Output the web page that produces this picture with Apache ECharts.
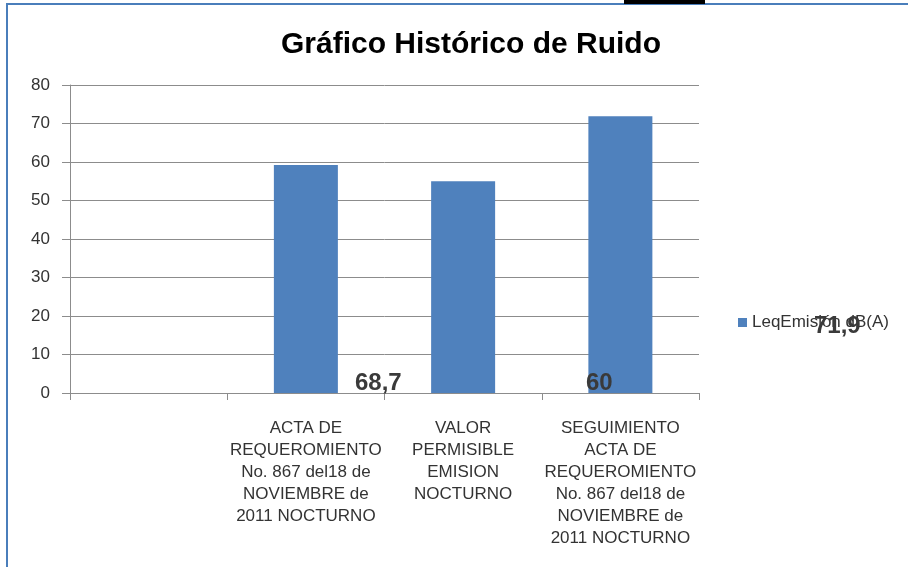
<!DOCTYPE html>
<html>
<head>
<meta charset="utf-8">
<script src="https://cdn.jsdelivr.net/npm/echarts@6.0.0/dist/echarts.min.js"></script>
<style>
  html, body { margin: 0; padding: 0; background: #fff; }
  #chart { width: 908px; height: 567px; }
</style>
</head>
<body>
<div id="chart"></div>
<script>
const categories = [
    "",
    "ACTA DE\nREQUEROMIENTO\nNo. 867 del18 de\nNOVIEMBRE de\n2011 NOCTURNO",
    "VALOR\nPERMISIBLE\nEMISION\nNOCTURNO",
    "SEGUIMIENTO\nACTA DE\nREQUEROMIENTO\nNo. 867 del18 de\nNOVIEMBRE de\n2011 NOCTURNO"
];
const leqValues = [null, 59.2, 55, 71.9];
const yTicks = [0, 10, 20, 30, 40, 50, 60, 70, 80];
// stray data labels that sit in odd places in the original picture
const strayLabels = ["68,7", "60", "71,9"];

const font = "Liberation Sans, Arial, sans-serif";
const textColor = "#333";

const chart = echarts.init(document.getElementById("chart"), null, { renderer: "canvas" });

chart.setOption({
    animation: false,
    backgroundColor: "#fff",
    title: {
        text: "Gráfico Histórico de Ruido",
        left: 466,
        top: 25,
        textAlign: "center",
        textStyle: { fontFamily: font, fontSize: 30, fontWeight: "bold", color: "#000" }
    },
    legend: {
        left: 733,
        top: 309,
        itemWidth: 9,
        itemHeight: 9,
        itemGap: 10,
        icon: "rect",
        textStyle: { fontFamily: font, fontSize: 17, color: textColor },
        data: ["LeqEmisión dB(A)"]
    },
    grid: { left: 70, right: 209, top: 85, bottom: 174 },
    xAxis: {
        type: "category",
        data: categories,
        axisLine: { lineStyle: { color: "#8c8c8c", width: 1 } },
        axisTick: { show: true, length: 7, lineStyle: { color: "#8c8c8c" } },
        axisLabel: {
            interval: 0,
            margin: 24,
            color: textColor,
            fontFamily: font,
            fontSize: 17,
            lineHeight: 22,
            align: "center"
        }
    },
    yAxis: {
        type: "value",
        min: yTicks[0],
        max: yTicks[yTicks.length - 1],
        interval: 10,
        axisLine: { show: true, lineStyle: { color: "#8c8c8c" } },
        axisTick: { show: true, length: 8, lineStyle: { color: "#8c8c8c" } },
        splitLine: { lineStyle: { color: "#8c8c8c", width: 1 } },
        axisLabel: { margin: 20, color: textColor, fontFamily: font, fontSize: 17 }
    },
    series: [
        {
            name: "LeqEmisión dB(A)",
            type: "bar",
            data: leqValues,
            barWidth: 64,
            itemStyle: { color: "#4f81bd" }
        }
    ],
    graphic: [
        {
            type: "rect",
            silent: true,
            z: 100,
            shape: { x: 7, y: 4, width: 1200, height: 1000 },
            style: { fill: null, stroke: "#4a7ebb", lineWidth: 2 }
        },
        {
            type: "rect",
            silent: true,
            z: 100,
            shape: { x: 624, y: 0, width: 81, height: 4 },
            style: { fill: "#000" }
        },
        {
            type: "text",
            silent: true,
            z: 100,
            x: 355, y: 395,
            style: { text: strayLabels[0], fill: "#3a3a3a", font: "bold 24px " + font, textVerticalAlign: "bottom" }
        },
        {
            type: "text",
            silent: true,
            z: 100,
            x: 586, y: 395,
            style: { text: strayLabels[1], fill: "#3a3a3a", font: "bold 24px " + font, textVerticalAlign: "bottom" }
        },
        {
            type: "text",
            silent: true,
            z: 100,
            x: 814, y: 338,
            style: { text: strayLabels[2], fill: "#3a3a3a", font: "bold 24px " + font, textVerticalAlign: "bottom" }
        }
    ]
});
</script>
</body>
</html>
